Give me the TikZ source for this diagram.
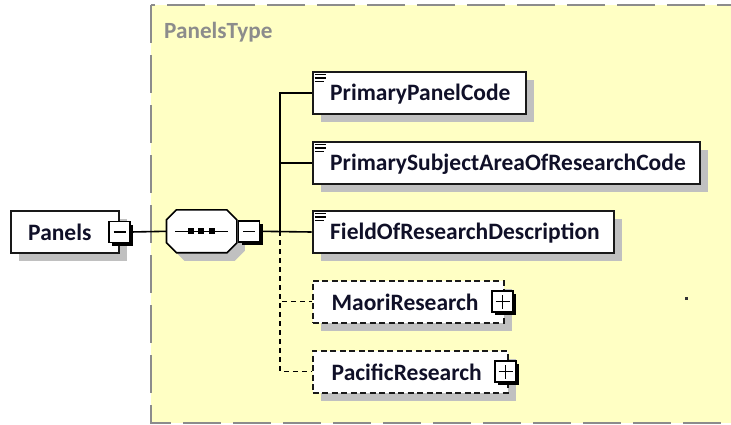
\documentclass[tikz,border=0pt]{standalone}
\usepackage{fontspec}
\setmainfont{Carlito}
\usetikzlibrary{shadows}
\definecolor{typefill}{RGB}{255,255,196}
\definecolor{typeline}{RGB}{140,140,140}
\definecolor{shadowgrey}{RGB}{192,192,192}
\definecolor{txt}{RGB}{16,16,40}
\tikzset{
  elembox/.style={draw=black!90, line width=2pt, fill=white, rectangle, inner sep=0pt,
    minimum height=42pt, anchor=north west,
    drop shadow={shadow xshift=8pt, shadow yshift=-8pt, fill=shadowgrey, opacity=1}},
  optbox/.style={elembox, dash pattern=on 6pt off 3.5pt},
  lbl/.style={font=\bfseries\fontsize{23.5}{28}\selectfont, text=txt, inner sep=0pt, anchor=west},
  btn/.style={draw=black, line width=1.5pt, fill=white, rectangle, minimum size=21pt, inner sep=0pt,
    drop shadow={shadow xshift=3pt, shadow yshift=-3pt, fill=black, opacity=1}},
  conn/.style={line width=1.6pt, black},
  optconn/.style={conn, dash pattern=on 5pt off 4pt},
  docicon/.style={line width=1.4pt, black}
}
\begin{document}
\begin{tikzpicture}[x=1pt,y=-1pt]
\useasboundingbox (0,0) rectangle (731,424);
\clip (0,0) rectangle (731,424);
\fill[white] (0,0) rectangle (731,424);
% type container
\draw[typeline, fill=typefill, line width=1.5pt, dash pattern=on 38pt off 12pt] (151,5) rectangle (760,423);
\node[font=\bfseries\fontsize{23.2}{28}\selectfont, text=typeline, anchor=west, inner sep=0pt] (typelabel) at (164,32) {PanelsType};

% Panels element
\node[elembox, minimum width=108pt] (panels) at (9.5,210) {};
\node[lbl] (panelslbl) at (28,232) {Panels};
\node[btn] (pbtn) at (panels.east) {};
\draw[line width=1.3pt] ([xshift=-6pt]pbtn.center) -- ([xshift=6pt]pbtn.center);

% sequence compositor
\node[minimum width=70pt, minimum height=42.5pt, inner sep=0pt] (seq) at (201.7,231.3) {};
\fill[shadowgrey] ([shift={(18,8)}]seq.north west) -- ([shift={(-2,8)}]seq.north east) -- ([shift={(8,18)}]seq.north east)
  -- ([shift={(8,-2)}]seq.south east) -- ([shift={(-2,8)}]seq.south east) -- ([shift={(18,8)}]seq.south west)
  -- ([shift={(8,-2)}]seq.south west) -- ([shift={(8,18)}]seq.north west) -- cycle;
\draw[line width=1.6pt, fill=white] ([shift={(10,0)}]seq.north west) -- ([shift={(-10,0)}]seq.north east) -- ([shift={(0,10)}]seq.north east)
  -- ([shift={(0,-10)}]seq.south east) -- ([shift={(-10,0)}]seq.south east) -- ([shift={(10,0)}]seq.south west)
  -- ([shift={(0,-10)}]seq.south west) -- ([shift={(0,10)}]seq.north west) -- cycle;
\draw[line width=1.4pt] ([xshift=-26.5]seq.center) -- ([xshift=26.5]seq.center);
\foreach \dx in {-11,-0.5,10}
  \fill ([shift={(\dx-3,-3)}]seq.center) rectangle ([shift={(\dx+3,3)}]seq.center);
\node[btn, anchor=west] (sbtn) at ([xshift=1pt]seq.east) {};
\draw[line width=1.3pt] ([xshift=-6pt]sbtn.center) -- ([xshift=6pt]sbtn.center);

% child elements
\node[elembox, minimum width=213pt] (ppc) at (311.7,71) {};
\node[lbl] (ppclbl) at (330,94) {PrimaryPanelCode};
\node[elembox, minimum width=387pt] (psa) at (311.7,141) {};
\node[lbl] (psalbl) at (330,164) {PrimarySubjectAreaOfResearchCode};
\node[elembox, minimum width=301pt] (fod) at (311.7,210) {};
\node[lbl] (fodlbl) at (330,233) {FieldOfResearchDescription};
\foreach \n in {ppc,psa,fod}{
  \draw[docicon] ([shift={(3,3.5)}]\n.north west) -- ++(11,0);
  \draw[docicon] ([shift={(3,7)}]\n.north west) -- ++(11,0);
  \draw[docicon] ([shift={(3,10.5)}]\n.north west) -- ++(9,0);
}
\node[optbox, minimum width=191pt] (maori) at (311.7,279.5) {};
\node[lbl] (maorilbl) at (331.5,302) {MaoriResearch};
\node[btn] (mbtn) at ([xshift=-2pt]maori.east) {};
\draw[line width=1.3pt] ([xshift=-7pt]mbtn.center) -- ([xshift=7pt]mbtn.center);
\draw[line width=1.3pt] ([yshift=-7pt]mbtn.center) -- ([yshift=7pt]mbtn.center);
\node[optbox, minimum width=195pt] (pac) at (311.7,349.5) {};
\node[lbl] (paclbl) at (331.5,372) {PacificResearch};
\node[btn] (pacbtn) at ([xshift=-3pt]pac.east) {};
\draw[line width=1.3pt] ([xshift=-7pt]pacbtn.center) -- ([xshift=7pt]pacbtn.center);
\draw[line width=1.3pt] ([yshift=-7pt]pacbtn.center) -- ([yshift=7pt]pacbtn.center);

% connectors
\coordinate (trunk) at (280,231.3);
\draw[conn] (pbtn.east) -- (seq.west);
\draw[conn] (sbtn.east) -- (fod.west);
\draw[conn] (ppc.west) -| (trunk);
\draw[conn] (psa.west) -- (psa.west -| trunk);
\draw[optconn] (trunk) |- (maori.west);
\draw[optconn] (trunk) |- (pac.west);

% stray dot
\fill[black!80] (685,297) rectangle (688,300);
\end{tikzpicture}
\end{document}
